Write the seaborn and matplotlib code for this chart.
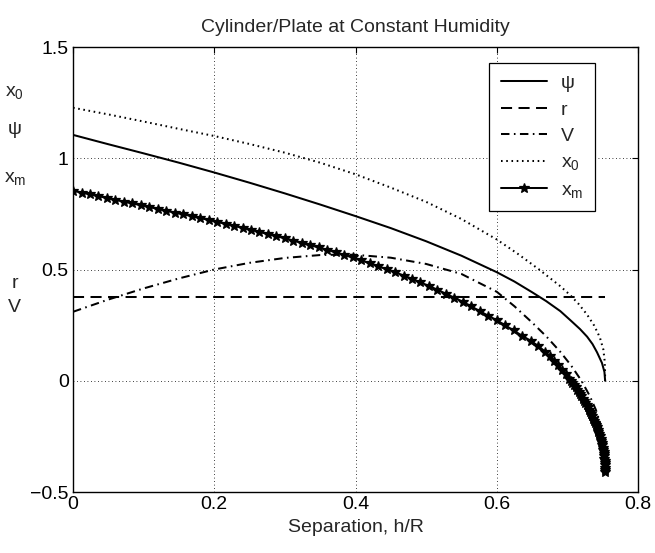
import matplotlib
matplotlib.use("Agg")
import matplotlib.pyplot as plt
import seaborn as sns

# ---------------- data ----------------
psi_x = [0.0, 0.05, 0.1, 0.15, 0.2, 0.25, 0.3, 0.35, 0.4, 0.45, 0.5, 0.55, 0.6,
         0.625, 0.65, 0.67, 0.69, 0.705, 0.718, 0.728, 0.7356, 0.742, 0.749,
         0.7525, 0.7535]
psi_y = [1.105, 1.063, 1.022, 0.980, 0.936, 0.890, 0.842, 0.792, 0.740, 0.686, 0.627,
         0.562, 0.488, 0.446, 0.398, 0.358, 0.313, 0.270, 0.232, 0.198, 0.165, 0.128,
         0.08, 0.04, 0.0]

r_x = [0.0, 0.7535]
r_y = [0.375, 0.375]

v_x = [0.0, 0.05, 0.1, 0.15, 0.2, 0.25, 0.3, 0.35, 0.38, 0.4, 0.45, 0.5, 0.55, 0.6,
       0.625, 0.65, 0.67, 0.69, 0.705, 0.72, 0.732, 0.7403, 0.7454, 0.7493, 0.7519,
       0.7531, 0.7535]
v_y = [0.31, 0.365, 0.415, 0.46, 0.50, 0.53, 0.552, 0.565, 0.567, 0.566, 0.553, 0.525,
       0.48, 0.40, 0.335, 0.262, 0.2, 0.13, 0.07, 0.0, -0.07, -0.13, -0.18, -0.23,
       -0.28, -0.32, -0.36]

x0_x = [0.0, 0.05, 0.1, 0.15, 0.2, 0.25, 0.3, 0.35, 0.4, 0.45, 0.5, 0.55, 0.6, 0.63,
        0.66, 0.69, 0.704, 0.716, 0.728, 0.738, 0.746, 0.751, 0.7528, 0.7533, 0.7535]
x0_y = [1.227, 1.197, 1.165, 1.132, 1.100, 1.064, 1.025, 0.98, 0.928, 0.868, 0.804,
        0.727, 0.635, 0.570, 0.500, 0.425, 0.385, 0.345, 0.297, 0.248, 0.195, 0.14,
        0.09, 0.05, 0.0]

xm_x = [0.000, 0.012, 0.024, 0.036, 0.048, 0.060, 0.072, 0.084, 0.096, 0.108, 0.120,
        0.132, 0.144, 0.156, 0.168, 0.180, 0.192, 0.204, 0.216, 0.228, 0.240, 0.252,
        0.264, 0.276, 0.288, 0.300, 0.312, 0.324, 0.336, 0.348, 0.360, 0.372, 0.384,
        0.396, 0.408, 0.420, 0.432, 0.444, 0.456, 0.468, 0.480, 0.492, 0.504, 0.516,
        0.528, 0.540, 0.552, 0.564, 0.576, 0.588, 0.600, 0.612, 0.624, 0.636, 0.648,
        0.658, 0.6689, 0.6751, 0.6810, 0.6867, 0.6921, 0.6974, 0.7023, 0.7047, 0.7071,
        0.7094, 0.7116, 0.7138, 0.7159, 0.7180, 0.7200, 0.7219, 0.7238, 0.7256, 0.7274,
        0.7291, 0.7308, 0.7324, 0.7339, 0.7354, 0.7368, 0.7382, 0.7395, 0.7407, 0.7419,
        0.7430, 0.7441, 0.7451, 0.7461, 0.7470, 0.7478, 0.7486, 0.7493, 0.7500, 0.7506,
        0.7512, 0.7516, 0.7521, 0.7525, 0.7528, 0.7530, 0.7532, 0.7534, 0.7535, 0.7535]
xm_y = [0.854, 0.846, 0.838, 0.830, 0.821, 0.813, 0.805, 0.797, 0.789, 0.781, 0.772,
        0.764, 0.756, 0.748, 0.740, 0.731, 0.723, 0.714, 0.705, 0.696, 0.687, 0.678,
        0.669, 0.659, 0.650, 0.640, 0.630, 0.619, 0.609, 0.599, 0.588, 0.577, 0.565,
        0.554, 0.541, 0.528, 0.515, 0.501, 0.488, 0.473, 0.458, 0.442, 0.426, 0.409,
        0.391, 0.373, 0.355, 0.334, 0.313, 0.292, 0.272, 0.249, 0.226, 0.202, 0.180,
        0.158, 0.13, 0.11, 0.09, 0.07, 0.05, 0.03, 0.01, 0.0, -0.01,
        -0.02, -0.03, -0.04, -0.05, -0.06, -0.07, -0.08, -0.09, -0.10, -0.11,
        -0.12, -0.13, -0.14, -0.15, -0.16, -0.17, -0.18, -0.19, -0.20, -0.21,
        -0.22, -0.23, -0.24, -0.25, -0.26, -0.27, -0.28, -0.29, -0.30, -0.31,
        -0.32, -0.33, -0.34, -0.35, -0.36, -0.37, -0.38, -0.39, -0.40, -0.41]

x_ticks = [0, 0.2, 0.4, 0.6, 0.8]
x_ticklabels = ["0", "0.2", "0.4", "0.6", "0.8"]
y_ticks = [-0.5, 0, 0.5, 1, 1.5]
y_ticklabels = ["\u22120.5", "0", "0.5", "1", "1.5"]

side_labels = ["x$_0$", "\u03c8", "x$_m$", "r", "V"]
side_label_y = [1.278, 1.108, 0.893, 0.418, 0.309]

legend_labels = ["\u03c8", "r", "V", "x$_0$", "x$_m$"]

title = "Cylinder/Plate at Constant Humidity"
xlabel = "Separation, h/R"

# ---------------- style ----------------
sns.set_style("white")
plt.rcParams["font.family"] = ["Liberation Sans", "DejaVu Sans"]
plt.rcParams["mathtext.fontset"] = "custom"
plt.rcParams["mathtext.rm"] = "Liberation Sans"
plt.rcParams["mathtext.it"] = "Liberation Sans"
plt.rcParams["mathtext.default"] = "rm"

FS = 14
fig = plt.figure(figsize=(6.55, 5.53), dpi=100)
ax = fig.add_axes([0.1115, 0.1103, 0.8625, 0.8047])

lw = 1.45
sns.lineplot(x=psi_x, y=psi_y, ax=ax, color="black", lw=lw, sort=False,
             estimator=None, label=legend_labels[0])
sns.lineplot(x=r_x, y=r_y, ax=ax, color="black", lw=lw, sort=False,
             estimator=None, label=legend_labels[1])
sns.lineplot(x=v_x, y=v_y, ax=ax, color="black", lw=lw, sort=False,
             estimator=None, label=legend_labels[2])
sns.lineplot(x=x0_x, y=x0_y, ax=ax, color="black", lw=lw, sort=False,
             estimator=None, label=legend_labels[3])
sns.lineplot(x=xm_x, y=xm_y, ax=ax, color="black", lw=lw, sort=False,
             estimator=None, label=legend_labels[4], marker="*", markersize=7,
             markeredgewidth=0.9, markeredgecolor="black", markerfacecolor="black")

lines = ax.get_lines()
lines[1].set_dashes([5.5, 3.2])
lines[2].set_dashes([4.2, 2.2, 0.8, 2.2])
lines[3].set_dashes([0.8, 1.8])

ax.set_xlim(0, 0.8)
ax.set_ylim(-0.5, 1.5)
ax.set_xticks(x_ticks)
ax.set_xticklabels(x_ticklabels)
ax.set_yticks(y_ticks)
ax.set_yticklabels(y_ticklabels)
ax.tick_params(direction="in", length=4, width=0.8, labelsize=FS, top=True,
               right=True, colors="black", pad=3)
for s in ax.spines.values():
    s.set_visible(True)
    s.set_color("black")
    s.set_linewidth(1.0)
ax.grid(True, color="black", lw=0.6, linestyle=(0, (1, 3.2)))
ax.set_axisbelow(True)

ax.set_title(title, fontsize=FS, pad=11)
ax.set_xlabel(xlabel, fontsize=FS, labelpad=4)
ax.set_ylabel("")

for lab, yy in zip(side_labels, side_label_y):
    ax.text(-0.103, yy, lab, transform=ax.get_yaxis_transform(), ha="center",
            va="baseline", fontsize=FS)

leg = ax.legend(loc="upper right", bbox_to_anchor=(0.924, 0.964), fontsize=FS,
                frameon=True, fancybox=False, framealpha=1, edgecolor="black",
                handlelength=2.4, labelspacing=0.45, borderpad=0.6,
                handletextpad=0.7, borderaxespad=0)
leg.get_frame().set_linewidth(0.9)

fig.savefig("out.png", dpi=100)
